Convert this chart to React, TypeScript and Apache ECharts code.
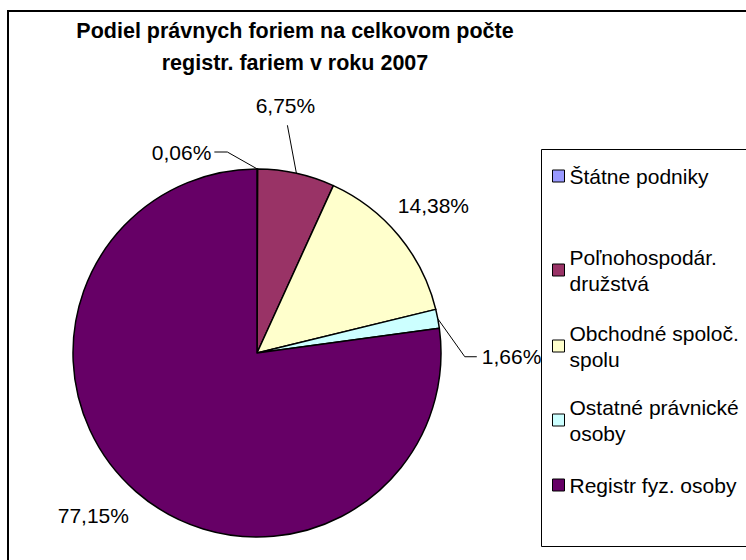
import React, { useEffect, useRef } from "react";
import * as echarts from "echarts";

const titleLines = ["Podiel právnych foriem na celkovom počte", "registr. fariem v roku 2007"];
const categories = [
  "Štátne podniky",
  "Poľnohospodár.\ndružstvá",
  "Obchodné spoloč.\nspolu",
  "Ostatné právnické\nosoby",
  "Registr fyz. osoby",
];
const shares = [0.06, 6.75, 14.38, 1.66, 77.15];
const colors = ["#9999FF", "#993366", "#FFFFCC", "#CCFFFF", "#660066"];

const FONT = "Arial, 'Liberation Sans', sans-serif";

// label placement relative to the slice's outer-arc point (layout only)
type LabelPlace = { dx: number; dy: number; align: string; line: number[][] | null };
const labelPlaces: LabelPlace[] = [
  { dx: -46, dy: -17, align: "right", line: [[-30, -17], [-43, -17]] },
  { dx: -11, dy: -68, align: "center", line: [[-9, -48], [-9, -48]] },
  { dx: -1, dy: -30, align: "left", line: null },
  { dx: 44, dy: 38, align: "left", line: [[27, 38], [39, 38]] },
  { dx: -7, dy: 24, align: "right", line: null },
];

export default function App() {
  const ref = useRef<HTMLDivElement>(null);
  useEffect(() => {
    if (!ref.current) return;
    const chart = echarts.init(ref.current, undefined, { renderer: "svg" });
    const legendTops = [163, 231, 307, 381, 472];
    const legends = categories.map((name, i) => {
      const twoLine = name.includes("\n");
      return {
        data: [name],
        left: 552,
        top: legendTops[i],
        orient: "vertical",
        padding: 0,
        itemWidth: 12,
        itemHeight: 12,
        icon: "rect",
        selectedMode: false,
        itemStyle: { borderColor: "#000", borderWidth: 1 },
        textStyle: {
          fontFamily: FONT,
          fontSize: 21,
          color: "#000",
          lineHeight: 26,
          padding: twoLine ? [26, 0, 0, 0] : 0,
        },
      };
    });
    chart.setOption({
      animation: false,
      backgroundColor: "#fff",
      title: {
        text: titleLines.join("\n"),
        left: 295,
        top: 15,
        padding: 0,
        textAlign: "center",
        textStyle: {
          fontFamily: FONT,
          fontSize: 21.5,
          fontWeight: "bold",
          color: "#000",
          lineHeight: 32,
        },
      },
      legend: legends,
      graphic: [
        {
          type: "rect",
          z: 0,
          shape: { x: 8, y: 11, width: 800, height: 600 },
          style: { fill: "none", stroke: "#000", lineWidth: 2 },
        },
        {
          type: "rect",
          z: 0,
          shape: { x: 541.5, y: 149.5, width: 300, height: 397 },
          style: { fill: "none", stroke: "#000", lineWidth: 1 },
        },
      ],
      series: [
        {
          type: "pie",
          center: [257, 353],
          radius: 184,
          startAngle: 90,
          clockwise: true,
          avoidLabelOverlap: false,
          data: categories.map((name, i) => ({
            name,
            value: shares[i],
            itemStyle: { color: colors[i] },
          })),
          itemStyle: { borderColor: "#000", borderWidth: 1.5 },
          label: {
            show: true,
            position: "outside",
            fontFamily: FONT,
            fontSize: 21,
            color: "#000",
            formatter: (p: any) => p.value.toFixed(2).replace(".", ",") + "%",
          },
          labelLine: {
            show: true,
            length: 14,
            length2: 14,
            lineStyle: { color: "#000", width: 1 },
          },
          labelLayout: (params: any) => {
            const pts = params.labelLinePoints;
            const place = labelPlaces[params.dataIndex];
            if (!pts || !place) return {};
            const [sx, sy] = pts[0];
            const linePts = place.line
              ? [[sx, sy], ...place.line.map(([x, y]) => [sx + x, sy + y])]
              : [[sx, sy], [sx, sy], [sx, sy]];
            return {
              x: sx + place.dx,
              y: sy + place.dy,
              align: place.align,
              verticalAlign: "middle",
              labelLinePoints: linePts,
            };
          },
          emphasis: { disabled: true },
        },
      ],
    });
    return () => chart.dispose();
  }, []);
  return (
    <div
      ref={ref}
      style={{ position: "fixed", left: 0, top: 0, width: 746, height: 560 }}
    />
  );
}
